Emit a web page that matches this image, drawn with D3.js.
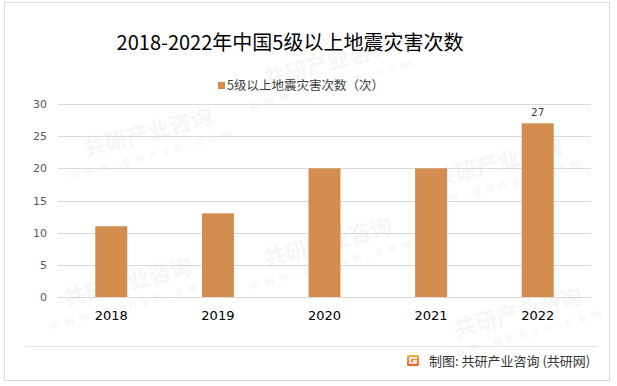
<!DOCTYPE html>
<html lang="zh">
<head>
  <meta charset="UTF-8">
  <title>2018-2022年中国5级以上地震灾害次数</title>
  <script src="https://d3js.org/d3.v7.min.js"></script>
  <style>
    body { margin: 0; background: #fff; font-family: "Noto Sans CJK SC", "Noto Sans", sans-serif; }
    svg { display: block; }
  </style>
</head>
<body>
  <div id="chart"></div>
  <script>
    const years = ["2018", "2019", "2020", "2021", "2022"];
    const counts = [11, 13, 20, 20, 27];
    const yTicks = [0, 5, 10, 15, 20, 25, 30];
    const labelled = ["2022"];

    const width = 617, height = 386;
    const m = { left: 58, right: 26, top: 104, bottom: 89 };

    const svg = d3.select("#chart").append("svg")
      .attr("width", width).attr("height", height);

    // outer frame
    svg.append("rect")
      .attr("x", 4.5).attr("y", 2.5)
      .attr("width", 605).attr("height", 378)
      .attr("fill", "#fff").attr("stroke", "#d9d9d9");

    // faint watermarks, kept inside the frame
    const wm = svg.append("g").attr("fill", "#f6f6f6").attr("font-weight", "bold");
    const spots = [[150, 140], [330, 70], [500, 170], [130, 290], [330, 250], [520, 320]];
    spots.forEach(([x, y]) => {
      const g = wm.append("g").attr("transform", `translate(${x},${y}) rotate(-15)`);
      g.append("text").attr("font-size", 22).attr("text-anchor", "middle").text("共研产业咨询");
      g.append("text").attr("y", 18).attr("font-size", 12).attr("letter-spacing", 6)
        .attr("text-anchor", "middle").attr("font-family", "Arial, sans-serif").text("www.gonyn.com");
    });

    const x = d3.scaleBand()
      .domain(years)
      .range([m.left, width - m.right])
      .paddingInner(0.7).paddingOuter(0.35);

    const y = d3.scaleLinear()
      .domain([0, 30])
      .range([height - m.bottom, m.top]);

    // gridlines
    svg.append("g")
      .selectAll("line")
      .data(yTicks)
      .join("line")
      .attr("x1", m.left).attr("x2", width - m.right)
      .attr("y1", d => Math.round(y(d)) + 0.5).attr("y2", d => Math.round(y(d)) + 0.5)
      .attr("stroke", "#d9d9d9");

    // y axis labels
    const yAxis = svg.append("g")
      .attr("transform", `translate(${m.left - 11},0)`)
      .call(d3.axisLeft(y).tickValues(yTicks).tickSize(0).tickPadding(0));
    yAxis.select(".domain").remove();
    yAxis.selectAll("text")
      .attr("font-size", 11).attr("fill", "#595959")
      .attr("font-family", "\"DejaVu Sans\", sans-serif");

    // bars
    svg.append("g")
      .selectAll("rect")
      .data(years)
      .join("rect")
      .attr("x", d => x(d))
      .attr("y", (d, i) => y(counts[i]))
      .attr("width", x.bandwidth())
      .attr("height", (d, i) => y(0) - y(counts[i]))
      .attr("fill", "#d38d4f");

    // value label
    svg.append("g")
      .selectAll("text")
      .data(years.filter(d => labelled.includes(d)))
      .join("text")
      .attr("x", d => x(d) + x.bandwidth() / 2)
      .attr("y", d => y(counts[years.indexOf(d)]) - 7)
      .attr("text-anchor", "middle")
      .attr("font-size", 10.5).attr("fill", "#404040")
      .attr("font-family", "\"DejaVu Sans\", sans-serif")
      .text(d => counts[years.indexOf(d)]);

    // x axis labels
    const xAxis = svg.append("g")
      .attr("transform", `translate(0,${y(0)})`)
      .call(d3.axisBottom(x).tickSize(0).tickPadding(14));
    xAxis.select(".domain").remove();
    xAxis.selectAll("text")
      .attr("font-size", 13).attr("fill", "#000")
      .attr("font-family", "\"DejaVu Sans\", sans-serif");

    // title
    svg.append("text")
      .attr("x", 290).attr("y", 50)
      .attr("text-anchor", "middle")
      .attr("font-size", 20).attr("fill", "#000")
      .text("2018-2022年中国5级以上地震灾害次数");

    // legend
    svg.append("rect")
      .attr("x", 218).attr("y", 82).attr("width", 7).attr("height", 7)
      .attr("fill", "#d38d4f");
    svg.append("text")
      .attr("x", 227).attr("y", 90)
      .attr("font-size", 12.5).attr("fill", "#404040")
      .text("5级以上地震灾害次数（次）");

    // footer
    svg.append("line")
      .attr("x1", 25).attr("x2", 598).attr("y1", 346.5).attr("y2", 346.5)
      .attr("stroke", "#e3e3e3");
    const grad = svg.append("defs").append("linearGradient")
      .attr("id", "logo").attr("x1", 0).attr("y1", 0).attr("x2", 0).attr("y2", 1);
    grad.append("stop").attr("offset", 0).attr("stop-color", "#f8b040");
    grad.append("stop").attr("offset", 1).attr("stop-color", "#ec5a2c");
    svg.append("rect")
      .attr("x", 407).attr("y", 355).attr("width", 12).attr("height", 11).attr("rx", 1.5)
      .attr("fill", "url(#logo)");
    svg.append("path")
      .attr("d", "M417 358 H410 V363 H416 V361 H413")
      .attr("fill", "none").attr("stroke", "#fff").attr("stroke-width", 1.6);
    svg.append("text")
      .attr("x", 429).attr("y", 366)
      .attr("font-size", 13).attr("fill", "#333")
      .text("制图: 共研产业咨询 (共研网)");
  </script>
</body>
</html>
